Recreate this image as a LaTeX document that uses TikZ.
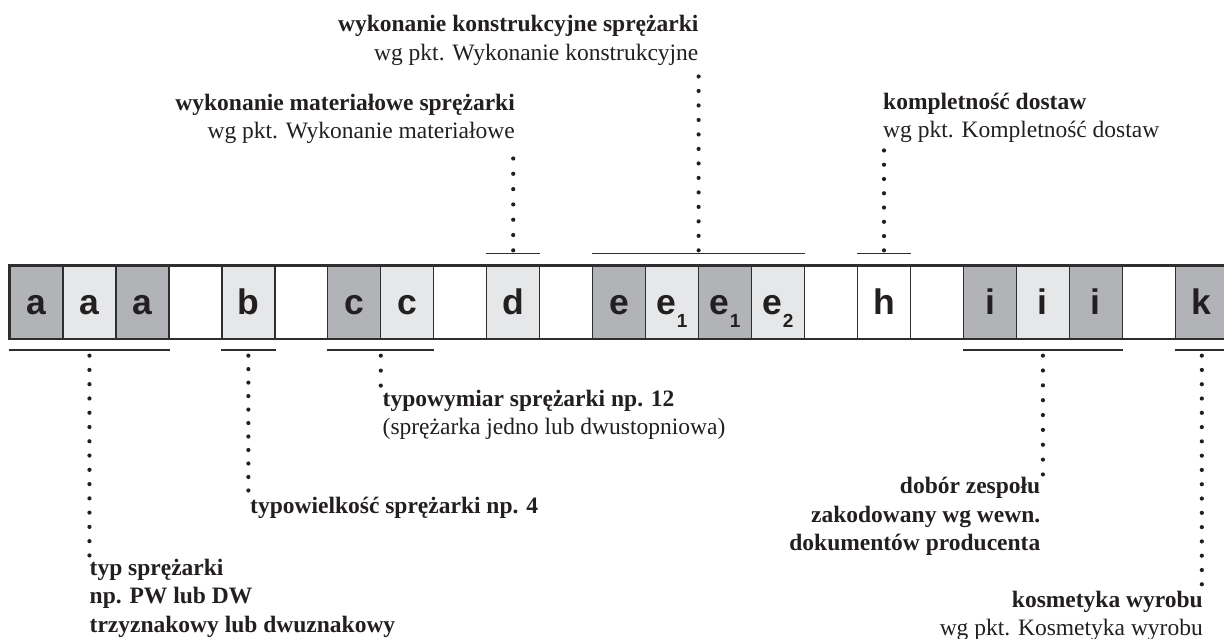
\documentclass[tikz,border=0pt]{standalone}
\usepackage{fontspec}
\setmainfont{Liberation Serif}
\newfontfamily\boxfont{Liberation Sans}
\usetikzlibrary{calc}
\definecolor{dk}{HTML}{B1B3B6}
\definecolor{lt}{HTML}{E6E7E8}
\definecolor{ink}{HTML}{231F20}
\definecolor{edgec}{HTML}{2E2E2E}
\newcommand\sbx[1]{\kern0.5bp\raisebox{-13bp}{\fontsize{19bp}{19bp}\selectfont #1}}
\tikzset{
  cell/.style={draw=edgec, line width=1.3bp, minimum width=52.97bp, inner xsep=0pt, inner ysep=0pt,
    text height=49bp, text depth=23.3bp, anchor=base, text=ink,
    font=\boxfont\bfseries\fontsize{35.5bp}{36bp}\selectfont},
  lbl/.style={inner sep=0pt, text=ink, font=\fontsize{23.5bp}{28bp}\selectfont},
  bl/.style={inner sep=0pt, text=ink, font=\fontsize{23.5bp}{28bp}\selectfont\bfseries},
  brk/.style={draw=edgec, line width=1.4bp},
  dotline/.style={draw=ink, line width=4.2bp, line cap=round, dash pattern=on 0bp off #1},
}
\begin{document}
\begin{tikzpicture}[x=1bp,y=-1bp]
\useasboundingbox (0,0) rectangle (1224,639);
\fill[white] (0,0) rectangle (1224,639);
% cells
\foreach \i/\c/\t in {0/dk/a,1/lt/a,2/dk/a,3/white/{},4/lt/b,5/white/{},6/dk/c,7/lt/c,8/white/{},
  9/lt/d,10/white/{},11/dk/e,12/lt/{e\sbx{1}},13/dk/{e\sbx{1}},14/lt/{e\sbx{2}},15/white/{},
  16/white/h,17/white/{},18/dk/i,19/lt/i,20/dk/i,21/white/{},22/dk/k}
  \node[cell, fill=\c] (b\i) at (36.485+52.97*\i,315) {\t};
\draw[draw=edgec, line width=1.9bp] (b0.north west) rectangle (b22.south east);
% brackets below
\draw[brk] ([yshift=-11bp]b0.south west) -- ([yshift=-11bp]b2.south east);
\draw[brk] ([yshift=-11bp]b4.south west) -- ([yshift=-11bp]b4.south east);
\draw[brk] ([yshift=-11bp]b6.south west) -- ([yshift=-11bp]b7.south east);
\draw[brk] ([yshift=-11bp]b18.south west) -- ([yshift=-11bp]b20.south east);
\draw[brk] ([yshift=-11bp]b22.south west) -- ([yshift=-11bp]b22.south east);
% brackets above
\draw[brk] ([yshift=11.7bp]b9.north west) -- ([yshift=11.7bp]b9.north east);
\draw[brk] ([yshift=11.7bp]b11.north west) -- ([yshift=11.7bp]b14.north east);
\draw[brk] ([yshift=11.7bp]b16.north west) -- ([yshift=11.7bp]b16.north east);
% marker coordinates
\coordinate (ma) at ($(b0.south west)!0.5!(b2.south east)+(0,16.7)$);
\coordinate (mb) at ($(b4.south)+(0,16.7)$);
\coordinate (mc) at ($(b6.south west)!0.5!(b7.south east)+(0,16.7)$);
\coordinate (mi) at ($(b19.south)+(0,16.7)$);
\coordinate (mk) at ($(b22.south)+(0,16.7)$);
\coordinate (md) at ($(b9.north)+(0,-15)$);
\coordinate (me) at ($(b11.north west)!0.5!(b14.north east)+(0,-15)$);
\coordinate (mh) at ($(b16.north)+(0,-15)$);
% end coordinates
\coordinate (ea) at ($(ma)+(0,200)$);
\coordinate (eb) at ($(mb)+(0,135)$);
\coordinate (ec) at ($(mc)+(0,30)$);
\coordinate (ei) at ($(mi)+(0,119)$);
\coordinate (ek) at ($(mk)+(0,229)$);
\coordinate (ed) at ($(md)+(0,-92)$);
\coordinate (ee) at ($(me)+(0,-174)$);
\coordinate (eh) at ($(mh)+(0,-100)$);
% dotted leaders
\draw[dotline=14.27bp] (ma) -- (ea);
\draw[dotline=13.48bp] (mb) -- (eb);
\draw[dotline=14.97bp] (mc) -- (ec);
\draw[dotline=14.85bp] (mi) -- (ei);
\draw[dotline=14.29bp] (mk) -- (ek);
\draw[dotline=15.31bp] (md) -- (ed);
\draw[dotline=14.49bp] (me) -- (ee);
\draw[dotline=14.27bp] (mh) -- (eh);
% labels top
\node[bl, anchor=base east] (te1) at (698.6,32) {wykonanie konstrukcyjne sprężarki};
\node[lbl, anchor=base east] (te2) at (698.6,61) {wg pkt. Wykonanie konstrukcyjne};
\node[bl, anchor=base east] (td1) at (515,111) {wykonanie materiałowe sprężarki};
\node[lbl, anchor=base east] (td2) at (515,139) {wg pkt. Wykonanie materiałowe};
\node[bl, anchor=base west] (th1) at (883,110) {kompletność dostaw};
\node[lbl, anchor=base west] (th2) at (883,138) {wg pkt. Kompletność dostaw};
% labels bottom
\node[bl, anchor=base west] (tc1) at (382.5,406) {typowymiar sprężarki np. 12};
\node[lbl, anchor=base west] (tc2) at (382.5,434) {(sprężarka jedno lub dwustopniowa)};
\node[bl, anchor=base west] (tb1) at (250,513) {typowielkość sprężarki np. 4};
\node[bl, anchor=base west] (ta1) at (89.5,575) {typ sprężarki};
\node[bl, anchor=base west] (ta2) at (89.5,603) {np. PW lub DW};
\node[bl, anchor=base west] (ta3) at (89.5,632) {trzyznakowy lub dwuznakowy};
\node[bl, anchor=base east] (ti1) at (1040.5,493) {dobór zespołu};
\node[bl, anchor=base east] (ti2) at (1040.5,522) {zakodowany wg wewn.};
\node[bl, anchor=base east] (ti3) at (1040.5,550) {dokumentów producenta};
\node[bl, anchor=base east] (tk1) at (1203,607) {kosmetyka wyrobu};
\node[lbl, anchor=base east] (tk2) at (1203,635) {wg pkt. Kosmetyka wyrobu};
\end{tikzpicture}
\end{document}
